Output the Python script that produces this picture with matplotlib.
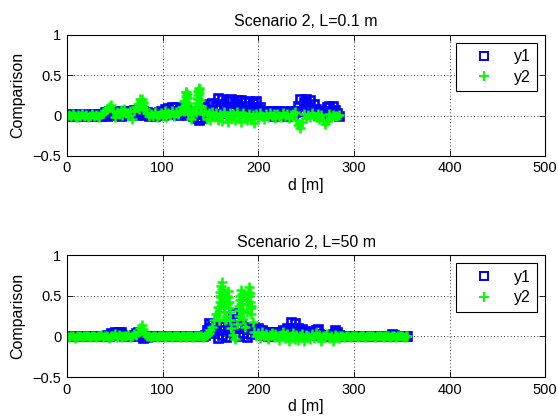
import numpy as np
import matplotlib
matplotlib.use("Agg")
from matplotlib import pyplot as plt

plt.rcParams['font.family'] = ['Liberation Sans', 'DejaVu Sans']
plt.rcParams['font.size'] = 10.5

# ============================================================
# DATA
# ============================================================
# Scenario 2, L=0.1 m  -> samples every 2 m from 0 to 284 m
d_top = np.arange(0, 286, 2)
y1_top = [
    0.01, 0.00, 0.02, 0.00, 0.01, 0.00, 0.02, 0.01, 0.00, 0.01,
    0.00, 0.02, 0.00, 0.01, 0.02, 0.00, 0.01, 0.02, 0.00, 0.02,
    0.04, 0.00, 0.05, 0.02, 0.05, 0.01, 0.04, 0.05, 0.00, 0.03,
    0.05, 0.01, 0.06, 0.02, 0.06, 0.07, 0.01, 0.07, 0.03, 0.05,
    0.06, 0.01, 0.04, 0.00, 0.02, 0.03, 0.00, 0.03, 0.04, 0.06,
    0.01, 0.08, 0.04, 0.09, 0.02, 0.10, 0.05, 0.10, 0.01, 0.08,
    0.09, 0.03, 0.07, 0.01, 0.05, 0.06, 0.00, 0.02, -0.03, -0.05,
    -0.03, 0.02, 0.10, 0.04, 0.14, 0.07, 0.15, 0.02, 0.12, 0.22,
    0.08, 0.21, 0.14, 0.03, 0.18, 0.10, 0.20, 0.05, 0.16, 0.19,
    0.10, 0.19, 0.04, 0.17, 0.12, 0.18, 0.06, 0.16, 0.10, 0.18,
    0.07, 0.10, 0.02, 0.04, 0.01, 0.05, 0.02, 0.05, 0.00, 0.05,
    0.02, 0.05, 0.01, 0.05, 0.03, 0.00, 0.04, 0.05, 0.01, 0.04,
    0.05, 0.12, 0.21, 0.06, 0.17, 0.21, 0.10, 0.19, 0.03, 0.14,
    0.08, 0.01, 0.05, 0.00, 0.04, 0.05, 0.10, 0.12, 0.04, 0.12,
    0.07, 0.03, -0.01,
]
y2_top = [
    0.00, 0.01, -0.01, 0.02, 0.00, -0.02, 0.01, 0.00, 0.02, -0.01,
    0.01, -0.02, 0.00, 0.02, -0.01, 0.01, 0.00, -0.02, 0.02, 0.03,
    0.05, 0.08, 0.10, 0.13, 0.06, -0.02, 0.04, 0.02, 0.07, 0.01,
    0.08, 0.03, -0.01, 0.05, -0.04, 0.06, 0.10, 0.14, 0.20, 0.12,
    0.17, 0.08, 0.03, -0.01, 0.02, 0.00, 0.04, -0.02, 0.01, 0.03,
    0.00, 0.05, -0.02, 0.03, 0.01, 0.06, -0.01, 0.04, 0.02, 0.06,
    0.10, 0.18, 0.29, 0.15, 0.06, -0.04, 0.02, 0.10, 0.22, 0.33,
    0.12, 0.02, 0.05, -0.04, 0.03, -0.06, 0.04, -0.02, 0.03, -0.05,
    0.02, -0.07, 0.04, 0.00, -0.08, 0.03, -0.03, 0.02, -0.06, 0.04,
    -0.02, -0.08, 0.03, 0.00, -0.05, 0.02, -0.04, 0.01, -0.09, 0.02,
    -0.03, 0.03, 0.00, -0.04, 0.02, -0.02, 0.03, -0.01, 0.02, -0.03,
    0.02, 0.00, -0.02, 0.03, -0.01, 0.02, -0.03, 0.01, 0.02, 0.04,
    -0.05, -0.12, -0.16, -0.08, 0.02, -0.03, 0.01, -0.02, 0.03, 0.00,
    -0.02, 0.02, -0.04, 0.01, -0.06, -0.10, -0.07, 0.02, -0.02, 0.01,
    -0.01, 0.00, 0.01,
]
# extra y2 samples inside the green spikes (top panel)
spike_d_top = [75, 76, 77, 78, 79, 80,
               122.5, 123, 123.5, 124, 124.5, 125, 125.5, 126, 126.5, 127,
               135, 135.5, 136, 136.5, 137, 137.5, 138, 138.5, 139, 139.5]
spike_y_top = [0.08, 0.14, 0.18, 0.21, 0.16, 0.10,
               0.05, 0.12, 0.18, 0.24, 0.29, 0.22, 0.27, 0.14, 0.08, 0.02,
               0.04, 0.10, 0.16, 0.21, 0.26, 0.30, 0.34, 0.28, 0.19, 0.11]

# Scenario 2, L=50 m  -> samples every 2 m from 0 to 356 m
d_bot = np.arange(0, 358, 2)
y1_bot = [
    0.00, 0.01, 0.00, 0.01, 0.00, 0.01, 0.00, 0.00, 0.01, 0.00,
    0.01, 0.00, 0.01, 0.00, 0.00, 0.01, 0.00, 0.01, 0.00, 0.01,
    0.00, 0.02, 0.01, 0.04, 0.02, 0.06, 0.03, 0.05, 0.06, 0.02,
    0.01, 0.00, 0.01, 0.00, 0.01, 0.02, 0.04, 0.05, 0.02, 0.00,
    -0.02, 0.00, -0.01, 0.01, 0.00, 0.01, 0.00, 0.01, 0.00, 0.01,
    0.00, 0.01, 0.00, 0.01, 0.00, 0.01, 0.00, 0.00, 0.01, 0.00,
    0.01, 0.00, 0.01, 0.00, 0.01, 0.00, 0.00, 0.01, 0.00, 0.01,
    0.00, 0.01, 0.02, 0.08, 0.17, 0.10, 0.15, 0.04, 0.12, -0.02,
    0.08, 0.02, 0.13, -0.01, 0.10, 0.18, 0.05, 0.29, 0.22, 0.10,
    0.00, 0.14, 0.04, 0.11, -0.01, 0.12, 0.03, 0.10, 0.12, 0.06,
    0.11, 0.04, 0.08, 0.02, 0.05, 0.00, 0.06, 0.03, 0.05, 0.01,
    0.06, 0.03, 0.05, 0.08, 0.04, 0.10, 0.06, 0.18, 0.11, 0.16,
    0.07, 0.10, 0.05, 0.09, 0.03, 0.07, 0.02, 0.06, 0.04, 0.02,
    0.08, 0.09, 0.03, 0.02, 0.00, 0.01, 0.02, 0.00, 0.01, 0.03,
    0.08, 0.05, 0.02, 0.00, 0.01, 0.00, 0.01, 0.00, 0.01, 0.00,
    0.00, 0.01, 0.00, 0.01, 0.00, 0.00, 0.01, 0.00, 0.01, 0.00,
    0.01, 0.00, 0.00, 0.01, 0.00, 0.01, 0.00, 0.00, 0.01, 0.00,
    0.03, 0.02, 0.01, 0.00, 0.01, 0.00, 0.01, 0.00, 0.00,
]
y2_bot = [
    0.00, -0.01, 0.01, 0.00, -0.02, 0.01, 0.00, 0.01, -0.01, 0.00,
    0.01, 0.00, -0.01, 0.01, 0.00, -0.01, 0.01, 0.00, 0.02, -0.01,
    0.00, 0.01, -0.02, 0.00, 0.01, 0.03, -0.01, 0.02, 0.00, -0.01,
    0.01, 0.00, 0.02, -0.01, 0.01, 0.03, 0.02, 0.06, 0.10, 0.14,
    0.09, 0.03, 0.00, 0.01, -0.01, 0.00, 0.01, -0.01, 0.00, 0.01,
    0.00, -0.01, 0.01, 0.00, 0.01, -0.01, 0.00, 0.01, 0.00, -0.01,
    0.01, 0.00, -0.01, 0.00, 0.01, 0.00, -0.01, 0.01, 0.00, 0.01,
    0.00, -0.01, 0.01, 0.02, 0.04, 0.08, 0.12, 0.20, 0.28, 0.36,
    0.50, 0.67, 0.40, 0.22, 0.56, 0.30, 0.10, 0.02, -0.03, 0.15,
    0.38, 0.57, 0.30, 0.12, 0.45, 0.61, 0.35, 0.18, 0.06, 0.01,
    0.04, -0.02, 0.05, 0.00, 0.03, -0.03, 0.02, 0.04, -0.01, 0.03,
    0.00, -0.04, 0.02, 0.05, -0.02, 0.03, -0.05, 0.01, 0.04, -0.03,
    0.02, -0.04, 0.01, 0.03, -0.06, 0.02, 0.00, -0.03, 0.03, -0.02,
    0.04, -0.01, 0.02, -0.05, 0.01, 0.00, 0.03, -0.02, 0.01, -0.06,
    0.02, 0.00, -0.02, 0.01, 0.00, -0.01, 0.01, 0.00, -0.01, 0.01,
    0.00, 0.01, -0.01, 0.00, 0.01, 0.00, -0.01, 0.01, 0.00, 0.00,
    0.01, -0.01, 0.00, 0.01, 0.00, -0.01, 0.00, 0.01, 0.00, -0.01,
    0.01, 0.00, -0.01, 0.00, 0.01, 0.00, -0.01, 0.01, 0.00,
]
# extra y2 samples inside the green spikes (bottom panel)
spike_d_bot = [158.5, 159, 159.5, 160, 160.5, 161, 161.5, 162.5, 163, 163.5, 164, 164.5, 165,
               166.5, 167, 167.5, 168.5, 169, 169.5, 170,
               179.5, 180, 180.5, 181, 181.5, 182.5, 183, 183.5, 184,
               188, 188.5, 189, 189.5, 190.5, 191, 191.5, 192, 192.5]
spike_y_bot = [0.20, 0.30, 0.42, 0.35, 0.55, 0.48, 0.62, 0.58, 0.45, 0.52, 0.30, 0.38, 0.20,
               0.25, 0.40, 0.50, 0.48, 0.35, 0.42, 0.20,
               0.25, 0.32, 0.45, 0.50, 0.40, 0.52, 0.46, 0.33, 0.22,
               0.30, 0.40, 0.50, 0.55, 0.50, 0.42, 0.53, 0.38, 0.28]

titles = ['Scenario 2, L=0.1 m', 'Scenario 2, L=50 m']
x_ticks = [0, 100, 200, 300, 400, 500]
y_ticks = [-0.5, 0, 0.5, 1]
y_tick_labels = ['\u22120.5', '0', '0.5', '1']


# ============================================================
# DRAWING
# ============================================================
def draw_panel(ax, d, y1, y2, sd, sy, title):
    d2 = np.concatenate([d, sd])
    y2 = np.concatenate([y2, sy])
    ax.plot(d, y1, 's', mec='#0000ff', mfc='none', ms=5.2, mew=1.9, label='y1')
    ax.plot(d2, y2, '+', color='#00ff00', ms=7, mew=1.8, label='y2')

    ax.set_xlim(0, 500)
    ax.set_ylim(-0.5, 1)
    ax.set_xticks(x_ticks)
    ax.set_yticks(y_ticks)
    ax.set_yticklabels(y_tick_labels)
    ax.tick_params(direction='in', top=True, right=True, length=4, width=0.6, pad=4)
    ax.grid(True, linestyle=(0, (1, 3)), color='k', linewidth=0.6)
    for s in ax.spines.values():
        s.set_linewidth(0.8)

    ax.set_title(title, fontsize=11.5, pad=6)
    ax.set_xlabel('d [m]', fontsize=11.5, labelpad=2)
    ax.set_ylabel('Comparison', fontsize=11.5, labelpad=5)

    leg = ax.legend(loc='upper right', fancybox=False, framealpha=1, edgecolor='k',
                    borderaxespad=0.5, handlelength=2.6, handletextpad=0.6,
                    borderpad=0.4, labelspacing=0.35, fontsize=11.5)
    leg.get_frame().set_linewidth(0.8)
    for h in leg.legend_handles:
        h.set_markeredgewidth(1.4)


fig = plt.figure(figsize=(5.58, 4.19), dpi=100)
ax1 = fig.add_axes([0.120, 0.628, 0.857, 0.289])
ax2 = fig.add_axes([0.120, 0.100, 0.857, 0.291])

draw_panel(ax1, d_top, y1_top, y2_top, spike_d_top, spike_y_top, titles[0])
draw_panel(ax2, d_bot, y1_bot, y2_bot, spike_d_bot, spike_y_bot, titles[1])

fig.savefig('out.png', dpi=100)
